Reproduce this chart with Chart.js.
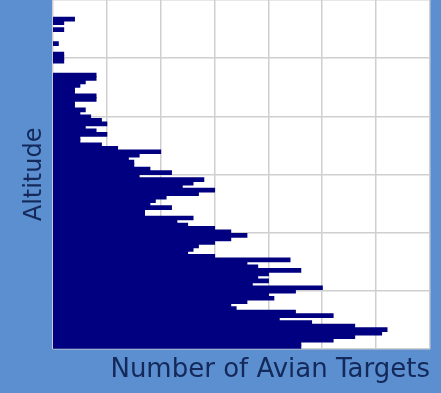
<!DOCTYPE html>
<html>
<head>
<meta charset="utf-8">
<script src="https://cdn.jsdelivr.net/npm/chart.js@4"></script>
<style>
  html, body { margin: 0; padding: 0; background: #5b8fd0; }
  canvas { display: block; }
</style>
</head>
<body>
<canvas id="avianChart" width="441" height="393"></canvas>
<script>
// altitude bins (m), highest first so they read top to bottom
const altitudes = [
    2970, 2940, 2910, 2880, 2850, 2820, 2790, 2760, 2730, 2700,
    2670, 2640, 2610, 2580, 2550, 2520, 2490, 2460, 2430, 2400,
    2370, 2340, 2310, 2280, 2250, 2220, 2190, 2160, 2130, 2100,
    2070, 2040, 2010, 1980, 1950, 1920, 1890, 1860, 1830, 1800,
    1770, 1740, 1710, 1680, 1650, 1620, 1590, 1560, 1530, 1500,
    1470, 1440, 1410, 1380, 1350, 1320, 1290, 1260, 1230, 1200,
    1170, 1140, 1110, 1080, 1050, 1020, 990, 960, 930, 900,
    870, 840, 810, 780, 750, 720, 690, 660, 630, 600,
    570, 540, 510, 480, 450, 420, 390, 360, 330, 300,
    270, 240, 210, 180, 150, 120, 90, 60, 30, 0
]

// number of avian targets in each altitude bin
const avianTargets = [
    0, 0, 0, 0, 0, 4, 2, 0, 2, 0,
    0, 0, 1, 0, 0, 2, 2, 2, 0, 0,
    0, 8, 8, 6, 5, 4, 4, 8, 8, 4,
    4, 6, 5, 7, 9, 10, 6, 8, 10, 5,
    5, 9, 12, 20, 16, 14, 15, 15, 18, 22,
    16, 28, 26, 24, 30, 27, 21, 19, 18, 22,
    17, 17, 26, 23, 25, 30, 33, 36, 33, 30,
    27, 26, 25, 30, 44, 36, 38, 46, 40, 38,
    40, 37, 50, 45, 40, 41, 36, 33, 34, 45,
    52, 42, 48, 56, 62, 61, 56, 52, 46, 46
]

// grid positions on each axis (no tick labels are drawn)
const countTicks = [0, 10, 20, 30, 40, 50, 60, 70]
const altitudeTicks = [0, 500, 1000, 1500, 2000, 2500, 3000]

const gridColor = '#cfcfcf'
const titleColor = '#14285a'

// blue frame around a white plot
const background = {
    id: 'background',
    beforeDraw: (chart) => {
        const { ctx, chartArea } = chart
        ctx.save()
        ctx.fillStyle = '#5b8fd0'
        ctx.fillRect(0, 0, chart.width, chart.height)
        ctx.fillStyle = '#ffffff'
        ctx.fillRect(chartArea.left, chartArea.top, chartArea.right - chartArea.left, chartArea.bottom - chartArea.top)
        ctx.restore()
    }
}

const setTicks = (values) => (axis) => {
    axis.ticks = values.map(value => ({ value }))
}

const ctx = document.getElementById('avianChart').getContext('2d')
const avianChart = new Chart(ctx, {
    type: 'bar',
    data: {
        labels: altitudes,
        datasets: [{
            data: avianTargets,
            backgroundColor: '#000080',
            borderWidth: 0,
            // close the hairline seams between neighbouring bars, but keep empty bins empty
            inflateAmount: (c) => c.raw > 0 ? 0.6 : 0,
            barPercentage: 1,
            categoryPercentage: 1
        }]
    },
    options: {
        indexAxis: 'y',
        responsive: false,
        animation: false,
        devicePixelRatio: 1,
        layout: { padding: { top: 0, right: 11, bottom: 7, left: 20 } },
        plugins: {
            legend: { display: false },
            tooltip: { enabled: false }
        },
        scales: {
            x: {
                min: countTicks[0],
                max: countTicks[countTicks.length - 1],
                afterBuildTicks: setTicks(countTicks),
                ticks: { display: false },
                grid: { color: gridColor, lineWidth: 1.5, drawTicks: false },
                border: { display: false },
                title: {
                    display: true,
                    text: 'Number of Avian Targets',
                    align: 'end',
                    color: titleColor,
                    font: { family: 'DejaVu Sans', size: 26 },
                    padding: { top: 6, bottom: 0 }
                }
            },
            y: {
                ticks: { display: false },
                grid: { display: false, drawTicks: false },
                border: { display: false },
                title: {
                    display: true,
                    text: 'Altitude',
                    color: titleColor,
                    font: { family: 'DejaVu Sans', size: 24 },
                    padding: { top: 0, bottom: 4 }
                }
            },
            // second axis only for the horizontal grid
            yGrid: {
                type: 'linear',
                position: 'left',
                offset: false,
                min: altitudeTicks[0],
                max: altitudeTicks[altitudeTicks.length - 1],
                afterBuildTicks: setTicks(altitudeTicks),
                ticks: { display: false },
                grid: { color: gridColor, lineWidth: 1.5, drawTicks: false, offset: false },
                border: { display: false }
            }
        }
    },
    plugins: [background]
})
</script>
</body>
</html>
